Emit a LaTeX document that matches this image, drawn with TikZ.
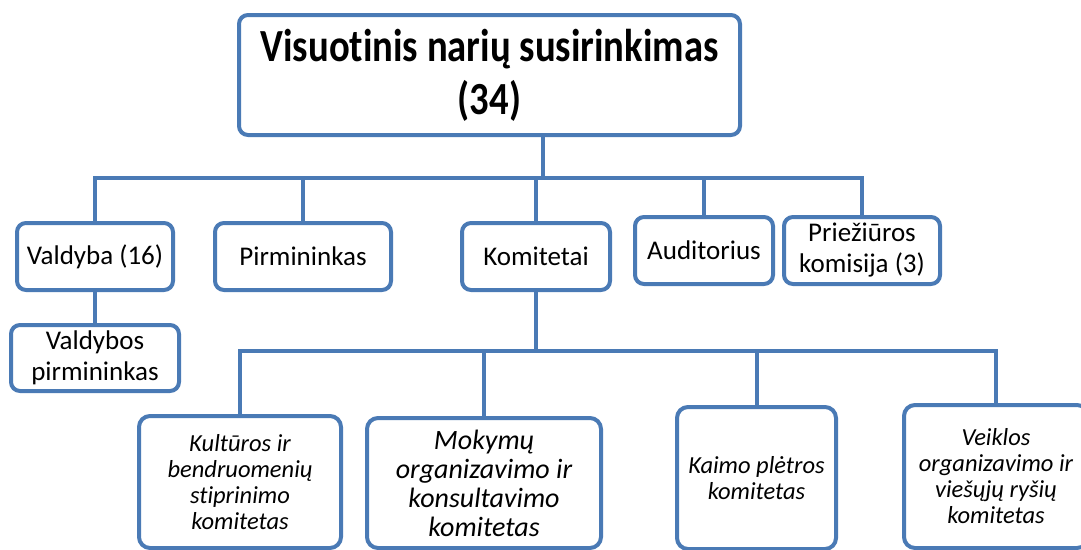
\documentclass[tikz,border=0pt]{standalone}
\usepackage{fontspec}
\setmainfont{Carlito}[Ligatures=CommonOff]
\newfontfamily\titlefont{Carlito}[FakeStretch=0.84, Ligatures=CommonOff]
\usetikzlibrary{positioning}
\definecolor{orgline}{HTML}{4A7AB5}

\begin{document}
\begin{tikzpicture}[
    x=1pt, y=-1pt,
    orgbox/.style={draw=orgline, line width=4pt, rounded corners=9pt,
                   fill=white, align=center, inner sep=2pt},
    topbox/.style={orgbox, font=\titlefont\fontsize{46}{53}\selectfont\bfseries},
    unitbox/.style={orgbox, minimum height=67, font=\fontsize{27}{31}\selectfont},
    combox/.style={orgbox, rounded corners=11pt, font=\fontsize{24.5}{26}\selectfont\itshape},
    link/.style={draw=orgline, line width=4pt, line cap=rect},
]
    \useasboundingbox (0,0) rectangle (1081,549);
    \clip (0,0) rectangle (1081,549);

    % General meeting
    \node[topbox, minimum width=501, minimum height=120] (meeting) at (489.5,75)
        {Visuotinis narių susirinkimas\\(34)};

    % First level
    \node[unitbox, minimum width=156] (valdyba) at (95,256.5) {Valdyba (16)};
    \node[unitbox, minimum width=176] (chair) at (303,256.5) {Pirmininkas};
    \node[unitbox, minimum width=148] (committees) at (536,256.5) {Komitetai};
    \node[unitbox, minimum width=138] (auditor) at (704,250.5) {Auditorius};
    \node[unitbox, minimum width=156] (review) at (862,250.5) {Priežiūros\\komisija (3)};
    \node[unitbox, minimum width=168, minimum height=66] (boardchair) at (95,358)
        {Valdybos\\pirmininkas};

    % Committees
    \node[combox, minimum width=202, minimum height=132] (culture) at (240,482)
        {Kultūros ir\\bendruomenių\\stiprinimo\\komitetas};
    \node[combox, minimum width=234, minimum height=130, font=\fontsize{28}{29}\selectfont\itshape]
        (training) at (484,483) {Mokymų\\organizavimo ir\\konsultavimo\\komitetas};
    \node[combox, minimum width=159, minimum height=142] (rural) at (756.5,478)
        {Kaimo plėtros\\komitetas};
    \node[combox, minimum width=184, minimum height=143] (activity) at (996,476.5)
        {Veiklos\\organizavimo ir\\viešųjų ryšių\\komitetas};

    % Links from the meeting
    \coordinate (hubtop) at (543,178);
    \draw[link] (hubtop |- meeting.south) -- (hubtop);
    \foreach \unit in {valdyba, chair, committees, auditor, review}
        \draw[link] (hubtop) -| (\unit.north);
    \draw[link] (valdyba.south) -- (boardchair.north);

    % Links to the committees
    \draw[link] (committees.south) -- ++(0,59) coordinate (hubcom);
    \foreach \com in {culture, training, rural, activity}
        \draw[link] (hubcom) -| (\com.north);
\end{tikzpicture}
\end{document}
